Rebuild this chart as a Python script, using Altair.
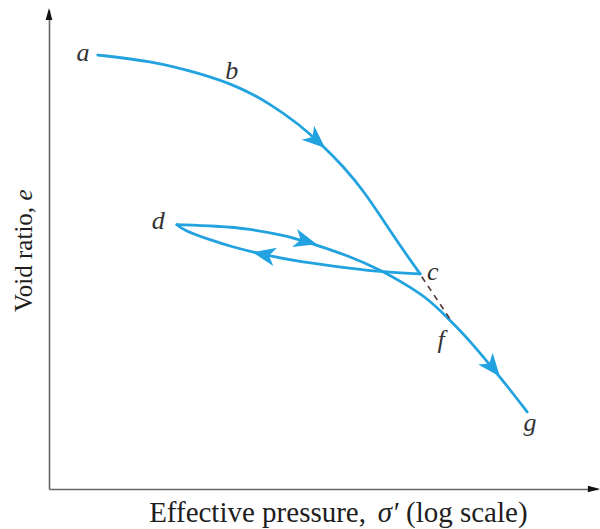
import math

import altair as alt
import pandas as pd

# Plot-area size in pixels and the arbitrary schematic units on both axes
W, H = 549, 479
X_DOMAIN = [0, 100]
Y_DOMAIN = [0, 100]

BLUE = "#22a3e0"
AXIS_GREY = "#666666"
TEXT = "#1e1e1e"

# Virgin compression curve a -> b -> c
virgin_x = [8.9, 18.4, 27.5, 34.8, 40.3, 45.7, 49.4, 53.6, 57.6, 60.8, 63.9, 67.6]
virgin_y = [90.6, 89.4, 86.8, 83.9, 80.4, 76.0, 72.2, 67.4, 61.8, 56.2, 50.9, 44.9]

# Unloading c -> d (listed in the direction of travel)
unload_x = [67.6, 60.8, 54.8, 45.7, 38.4, 33.5, 29.3, 24.4, 23.3]
unload_y = [44.9, 45.3, 46.1, 47.4, 49.1, 50.5, 52.0, 54.1, 55.2]

# Reloading d -> f -> g
reload_x = [23.3, 30.6, 36.6, 42.6, 47.0, 54.8, 60.8, 64.8, 68.9, 73.0, 76.7, 80.9, 84.0, 87.1]
reload_y = [55.2, 54.9, 54.3, 53.0, 51.6, 48.6, 45.5, 42.8, 39.9, 35.3, 30.9, 25.1, 20.7, 16.1]

# Dashed extension of the virgin curve from c
dash_x = [67.9, 73.4]
dash_y = [44.3, 34.9]

# Point labels
label_text = ["a", "b", "c", "d", "f", "g"]
label_x = [6.2, 33.3, 69.9, 19.9, 71.4, 87.6]
label_y = [91.0, 87.3, 45.3, 55.9, 31.1, 13.8]

# Direction arrows along the paths
arrow_x = [48.6, 39.3, 46.6, 80.7]
arrow_y = [72.9, 48.9, 51.8, 25.5]
arrow_path = ["virgin", "unload", "reload", "reload"]

paths = {
    "virgin": (virgin_x, virgin_y),
    "unload": (unload_x, unload_y),
    "reload": (reload_x, reload_y),
}

curve_rows = []
for name, (xs, ys) in paths.items():
    for x, y in zip(xs, ys):
        curve_rows.append({"path": name, "x": x, "y": y})
curves_df = pd.DataFrame(curve_rows)

sx = W / (X_DOMAIN[1] - X_DOMAIN[0])
sy = H / (Y_DOMAIN[1] - Y_DOMAIN[0])


def heading(name, ax, ay):
    """Clockwise angle from 'up' of the path's travel direction near (ax, ay)."""
    xs, ys = paths[name]
    best, best_d = 0, float("inf")
    for i in range(len(xs) - 1):
        mx, my = (xs[i] + xs[i + 1]) / 2, (ys[i] + ys[i + 1]) / 2
        d = ((mx - ax) * sx) ** 2 + ((my - ay) * sy) ** 2
        if d < best_d:
            best, best_d = i, d
    dx = (xs[best + 1] - xs[best]) * sx
    dy = (ys[best + 1] - ys[best]) * sy
    return math.degrees(math.atan2(dx, dy)) % 360


arrows_df = pd.DataFrame({
    "x": arrow_x,
    "y": arrow_y,
    "angle": [heading(p, x, y) for p, x, y in zip(arrow_path, arrow_x, arrow_y)],
})
labels_df = pd.DataFrame({"t": label_text, "x": label_x, "y": label_y})
dash_df = pd.DataFrame({"x": dash_x, "y": dash_y})

bare_axis = dict(title=None, labels=False, ticks=False, grid=False,
                 domainColor=AXIS_GREY, domainWidth=1.6)
X = alt.X("x:Q", scale=alt.Scale(domain=X_DOMAIN), axis=alt.Axis(**bare_axis))
Y = alt.Y("y:Q", scale=alt.Scale(domain=Y_DOMAIN), axis=alt.Axis(**bare_axis))

curves = alt.Chart(curves_df).mark_line(
    color=BLUE, strokeWidth=2.8, interpolate="basis", strokeCap="round"
).encode(x=X, y=Y, detail="path:N")

dashed = alt.Chart(dash_df).mark_line(
    color="#553838", strokeWidth=1.6, strokeDash=[6, 5]
).encode(x=X, y=Y)

STEALTH = "M0,-1L0.75,0.85L0,0.35L-0.75,0.85Z"
arrows = alt.Chart(arrows_df).mark_point(
    shape=STEALTH, filled=True, color=BLUE, opacity=1, size=620, strokeWidth=0
).encode(x=X, y=Y, angle=alt.Angle("angle:Q", scale=None))

labels = alt.Chart(labels_df).mark_text(
    font="Liberation Serif", fontStyle="italic", fontSize=26, color="#333333",
    align="center", baseline="middle"
).encode(x=X, y=Y, text="t:N")

# Arrowheads at the ends of the two axes
head = alt.Chart(pd.DataFrame({"k": [0]}))
TRI = "M0,-1L0.55,1L-0.55,1Z"
y_head = head.mark_point(shape=TRI, filled=True, color="#111111", opacity=1,
                         size=150, clip=False).encode(
    x=alt.value(0), y=alt.value(4))
x_head = head.mark_point(shape=TRI, filled=True, color="#111111", opacity=1,
                         size=150, angle=90, clip=False).encode(
    x=alt.value(545), y=alt.value(H))

# Axis titles
y_title_a = head.mark_text(
    font="Liberation Serif", fontSize=25, color=TEXT, angle=270,
    align="left", baseline="middle"
).encode(x=alt.value(-25), y=alt.value(302), text=alt.value("Void ratio,"))
y_title_b = head.mark_text(
    font="Liberation Serif", fontSize=25, fontStyle="italic", color=TEXT,
    angle=270, align="center", baseline="middle"
).encode(x=alt.value(-25), y=alt.value(185), text=alt.value("e"))

x_title_a = head.mark_text(
    font="Liberation Serif", fontSize=29, color=TEXT, align="right",
    baseline="alphabetic"
).encode(x=alt.value(317), y=alt.value(512), text=alt.value("Effective pressure,"))
x_title_b = head.mark_text(
    font="Liberation Serif", fontSize=29, fontStyle="italic", color=TEXT,
    align="center", baseline="alphabetic"
).encode(x=alt.value(339), y=alt.value(512), text=alt.value("σ′"))
x_title_c = head.mark_text(
    font="Liberation Serif", fontSize=29, color=TEXT, align="left",
    baseline="alphabetic"
).encode(x=alt.value(357), y=alt.value(512), text=alt.value("(log scale)"))

chart = alt.layer(
    curves, dashed, arrows, labels, y_head, x_head,
    y_title_a, y_title_b, x_title_a, x_title_b, x_title_c
).properties(
    width=W, height=H,
    padding={"left": 49, "top": 10, "right": 2, "bottom": 40},
    autosize=alt.AutoSizeParams(type="none"),
    background="white",
).configure_view(stroke=None)

chart.save("out.html", embed_options={"renderer": "svg", "actions": False})
